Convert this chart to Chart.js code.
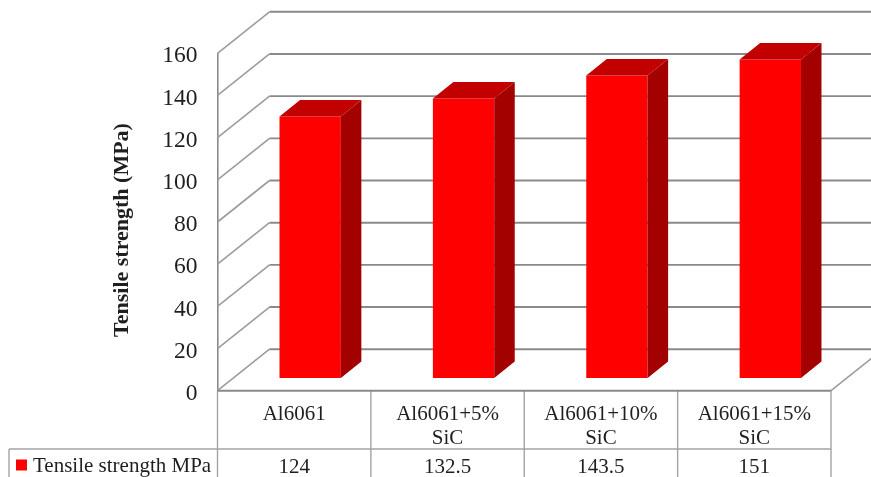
<!DOCTYPE html>
<html>
<head>
<meta charset="utf-8">
<title>Tensile strength</title>
<style>
html,body{margin:0;padding:0;background:#fff;overflow:hidden}
canvas{display:block}
</style>
<script src="https://cdn.jsdelivr.net/npm/chart.js@4/dist/chart.umd.min.js"></script>
</head>
<body>
<canvas id="c" width="871" height="477"></canvas>
<script>
const categories = [['Al6061'], ['Al6061+5%', 'SiC'], ['Al6061+10%', 'SiC'], ['Al6061+15%', 'SiC']];
const seriesName = 'Tensile strength MPa';
const axisTitle = 'Tensile strength (MPa)';
const tensileStrength = [124, 132.5, 143.5, 151];

const SERIF = '"Liberation Serif", "Times New Roman", serif';
const INK = '#1f1f1f';
const LINE = '#8a8a8a';
const DIAGONAL = '#9c9c9c';
const TABLE_LINE = '#a3a3a3';
const FRONT = '#ff0000', SIDE = '#a30000', TOP = '#c20000';

// Oblique projection of the 3D box
const WALL_DX = 52, WALL_DY = -41.5;        // front plane to back wall
const BAR_DX = 16, BAR_DY = -12.7;          // front plane to bar front face
const BAR_SIDE_DX = 20.5, BAR_SIDE_DY = -16.5; // bar depth

function segment(ctx, x1, y1, x2, y2) {
  ctx.beginPath();
  ctx.moveTo(x1, y1);
  ctx.lineTo(x2, y2);
  ctx.stroke();
}

function polygon(ctx, pts, fill) {
  ctx.fillStyle = fill;
  ctx.beginPath();
  pts.forEach((p, i) => i ? ctx.lineTo(p[0], p[1]) : ctx.moveTo(p[0], p[1]));
  ctx.closePath();
  ctx.fill();
}

const box3d = {
  id: 'box3d',
  beforeDatasetsDraw(chart) {
    const { ctx, chartArea: a, scales: { y } } = chart;
    ctx.save();
    // side wall and back wall rules at every tick
    y.ticks.forEach(t => {
      const py = y.getPixelForValue(t.value);
      const bx = a.left + WALL_DX, by = py + WALL_DY;
      ctx.strokeStyle = DIAGONAL;
      ctx.lineWidth = 1.6;
      segment(ctx, a.left, py, bx, by);
      ctx.strokeStyle = LINE;
      ctx.lineWidth = 1.9;
      segment(ctx, bx, by, a.right + WALL_DX, by);
    });
    // floor edge on the right
    const y0 = y.getPixelForValue(0);
    ctx.strokeStyle = DIAGONAL;
    ctx.lineWidth = 1.6;
    segment(ctx, a.right, y0, a.right + WALL_DX, y0 + WALL_DY);
    ctx.restore();
    // bars sit part way into the depth of the box
    ctx.save();
    ctx.translate(BAR_DX, BAR_DY);
  },
  afterDatasetsDraw(chart) {
    const { ctx } = chart;
    chart.getDatasetMeta(0).data.forEach(bar => {
      const r = bar.x + bar.width / 2, l = bar.x - bar.width / 2;
      polygon(ctx, [[r, bar.y], [r + BAR_SIDE_DX, bar.y + BAR_SIDE_DY],
        [r + BAR_SIDE_DX, bar.base + BAR_SIDE_DY], [r, bar.base]], SIDE);
      polygon(ctx, [[l, bar.y], [l + BAR_SIDE_DX, bar.y + BAR_SIDE_DY],
        [r + BAR_SIDE_DX, bar.y + BAR_SIDE_DY], [r, bar.y]], TOP);
    });
    ctx.restore();
  },
  afterDraw(chart) {
    const { ctx, chartArea: a, scales: { x }, height } = chart;
    const rowTop = 449, tableLeft = 9;
    const cell = (a.right - a.left) / categories.length;
    ctx.save();
    // data table rules
    ctx.strokeStyle = TABLE_LINE;
    ctx.lineWidth = 1.4;
    segment(ctx, tableLeft, rowTop, a.right, rowTop);
    segment(ctx, tableLeft, rowTop, tableLeft, height);
    for (let i = 0; i <= categories.length; i++) {
      const px = a.left + i * cell;
      segment(ctx, px, a.bottom, px, height);
    }
    ctx.strokeStyle = LINE;
    ctx.lineWidth = 2;
    segment(ctx, a.left, a.bottom, a.right, a.bottom);
    // legend key and series name
    ctx.fillStyle = FRONT;
    ctx.fillRect(16, 459.5, 11, 11);
    ctx.fillStyle = INK;
    ctx.font = '21px ' + SERIF;
    ctx.textBaseline = 'middle';
    ctx.textAlign = 'left';
    ctx.fillText(seriesName, 33, 466);
    // values row
    ctx.textAlign = 'center';
    tensileStrength.forEach((v, i) => {
      ctx.fillText(String(v), x.getPixelForValue(i), 467);
    });
    // vertical axis title, centred a little below the plot's middle
    ctx.translate(122.5, 230);
    ctx.rotate(-Math.PI / 2);
    ctx.font = 'bold 22px ' + SERIF;
    ctx.fillText(axisTitle, 0, 0);
    ctx.restore();
  }
};

new Chart(document.getElementById('c'), {
  type: 'bar',
  data: {
    labels: categories,
    datasets: [{
      label: seriesName,
      data: tensileStrength,
      backgroundColor: FRONT,
      borderWidth: 0,
      categoryPercentage: 1,
      barPercentage: 0.4,
      clip: false
    }]
  },
  options: {
    responsive: false,
    animation: false,
    layout: { padding: { top: 53.3, right: 40, left: 0, bottom: 0 } },
    plugins: { legend: { display: false }, tooltip: { enabled: false } },
    scales: {
      x: {
        grid: { display: false },
        border: { display: false },
        ticks: {
          color: INK,
          font: { family: SERIF, size: 21, lineHeight: 1.17 },
          padding: 3,
          maxRotation: 0,
          autoSkip: false
        },
        afterFit(s) { s.height = 86.3; }
      },
      y: {
        min: 0,
        max: 160,
        grid: { display: false },
        border: { display: true, color: LINE, width: 1.6 },
        ticks: {
          stepSize: 20,
          color: INK,
          font: { family: SERIF, size: 23.5 },
          padding: 12
        },
        afterFit(s) {
          s.width = 217.5;
          // tick numbers sit slightly below their rules
          const drawLabels = s.drawLabels;
          s.drawLabels = function (area) {
            const ctx = this.ctx;
            ctx.save();
            ctx.translate(0, 1.5);
            drawLabels.call(this, area);
            ctx.restore();
          };
        }
      }
    }
  },
  plugins: [box3d]
});
</script>
</body>
</html>
